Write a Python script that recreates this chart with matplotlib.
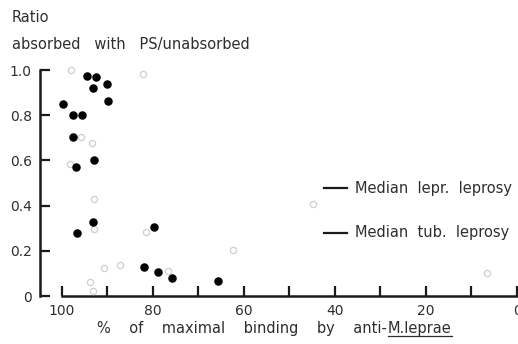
import matplotlib
matplotlib.use('Agg')
import matplotlib.pyplot as plt
from matplotlib.lines import Line2D

# Lepromatous / tuberculoid points (x = % of max binding, y = ratio)
filled_x = [94.4, 92.6, 90.0, 93.1, 99.7, 89.8, 97.5, 95.5, 97.5, 92.9, 96.8,
            96.6, 93.2, 79.8, 81.9, 78.9, 75.8, 65.6]
filled_y = [0.973, 0.97, 0.94, 0.919, 0.851, 0.861, 0.80, 0.802, 0.702, 0.602, 0.569,
            0.28, 0.329, 0.304, 0.13, 0.108, 0.08, 0.065]

open_x = [98.0, 82.1, 95.7, 93.4, 98.1, 92.9, 93.0, 81.5, 90.8, 87.3, 93.8, 93.2,
          76.6, 62.3, 44.8, 6.5]
open_y = [1.0, 0.982, 0.702, 0.679, 0.584, 0.429, 0.298, 0.282, 0.122, 0.139, 0.062, 0.021,
          0.109, 0.202, 0.406, 0.103]

x_ticks = [100, 90, 80, 70, 60, 50, 40, 30, 20, 10, 0]
x_labels = ['100', '', '80', '', '60', '', '40', '', '20', '', '0']
y_ticks = [0, 0.2, 0.4, 0.6, 0.8, 1.0]
y_labels = ['0', '0.2', '0.4', '0.6', '0.8', '1.0']

W, H = 518, 344
fig = plt.figure(figsize=(W / 100, H / 100), dpi=100)
ax = fig.add_axes([40 / W, (H - 296) / H, 477 / W, 226 / H])

ink = '#1a1a1a'
txt = '#2e2e2e'
ax.scatter(open_x, open_y, s=20, facecolors='white', edgecolors='#cfcfcf',
           linewidths=0.9, clip_on=False, zorder=3)
ax.scatter(filled_x, filled_y, s=26, color='black', clip_on=False, zorder=4)

ax.set_xlim(104.8, 0)
ax.set_ylim(0, 1.0)

for s in ['top', 'right']:
    ax.spines[s].set_visible(False)
ax.spines['bottom'].set_bounds(100, 0)
for s in ['bottom', 'left']:
    ax.spines[s].set_linewidth(1.8)
    ax.spines[s].set_color(ink)

ax.set_xticks(x_ticks)
ax.set_xticklabels(x_labels)
ax.set_yticks(y_ticks)
ax.set_yticklabels(y_labels)
ax.tick_params(direction='in', length=7, width=1.6, color=ink, labelcolor=txt,
               labelsize=10, pad=6)

fs = 10.5
fig.text(12 / W, 1 - 18 / H, 'Ratio', fontsize=fs, color=txt, va='center')
fig.text(12 / W, 1 - 44 / H, 'absorbed   with   PS/unabsorbed', fontsize=fs,
         color=txt, va='center')

# legend-like labels
for yy, lab in [(188, 'Median  lepr.  leprosy'), (233, 'Median  tub.  leprosy')]:
    fig.add_artist(Line2D([324 / W, 347 / W], [1 - yy / H, 1 - yy / H], color=ink, lw=1.6))
    fig.text(355 / W, 1 - yy / H, lab, fontsize=fs, color=txt, va='center')

# x label with underlined species name
ylab = 1 - 328 / H
fig.text(387 / W, ylab, '%    of    maximal    binding    by    anti-', fontsize=fs,
         color=txt, va='center', ha='right')
t2 = fig.text(388 / W, ylab, 'M.leprae', fontsize=fs, color=txt, va='center', ha='left')
fig.canvas.draw()
bb = t2.get_window_extent()
fig.add_artist(Line2D([bb.x0 / W, bb.x1 / W], [(bb.y0 - 0.5) / H, (bb.y0 - 0.5) / H],
                      color=txt, lw=0.9))

fig.savefig('out.png', dpi=100)
